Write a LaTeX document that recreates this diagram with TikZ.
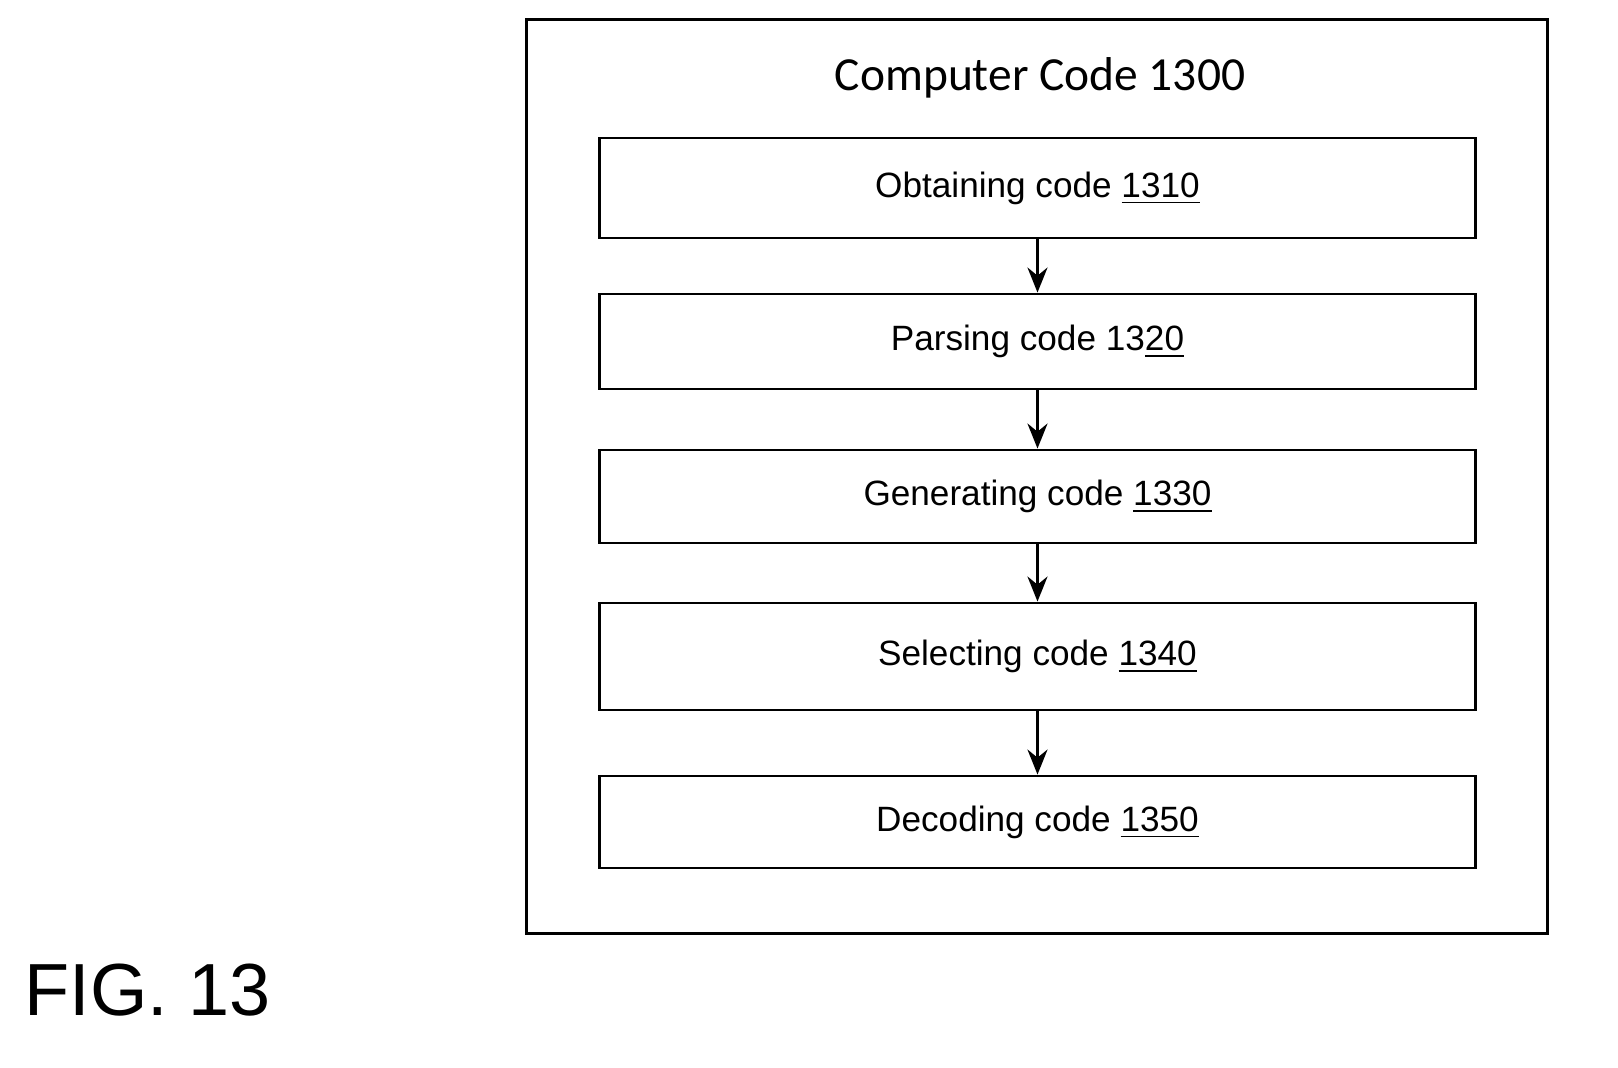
\documentclass[tikz,border=0pt]{standalone}
\usepackage{fontspec}
\setmainfont{Liberation Sans}
\newfontfamily\titlefont{Carlito}
\usetikzlibrary{arrows.meta,positioning}
\tikzset{%
	codebox/.style = {draw, thick, rectangle, minimum width=8.75cm, text centered, font=\fontsize{10}{12}\selectfont},
	frame/.style   = {draw, thick, rectangle},
	arrow/.style   = {thick,-{Stealth[length=2.5mm,width=2mm]}},
}
\begin{document}
\begin{tikzpicture}[x=0.01cm,y=-0.01cm]
	\useasboundingbox (0,0) rectangle (1618,1068);
	\node [frame, minimum width=10.2cm, minimum height=9.13cm] (outer) at (1037,476.5) {};
	\node [font=\titlefont\fontsize{13.5}{16}\selectfont] (title) at (1040,78) {Computer Code 1300};
	\node [codebox, minimum height=1cm] (S1) at (1037.5,188) {Obtaining code \underline{1310}};
	\node [codebox, minimum height=0.95cm] (S2) at (1037.5,341.5) {Parsing code 13\underline{20}};
	\node [codebox, minimum height=0.93cm] (S3) at (1037.5,496.5) {Generating code \underline{1330}};
	\node [codebox, minimum height=1.07cm] (S4) at (1037.5,656.5) {Selecting code \underline{1340}};
	\node [codebox, minimum height=0.92cm] (S5) at (1037.5,822) {Decoding code \underline{1350}};
	\node [font=\fontsize{21}{24}\selectfont, anchor=west] (fig) at (12,990) {FIG. 13};

	\draw[arrow] (S1) -- (S2);
	\draw[arrow] (S2) -- (S3);
	\draw[arrow] (S3) -- (S4);
	\draw[arrow] (S4) -- (S5);
\end{tikzpicture}
\end{document}
